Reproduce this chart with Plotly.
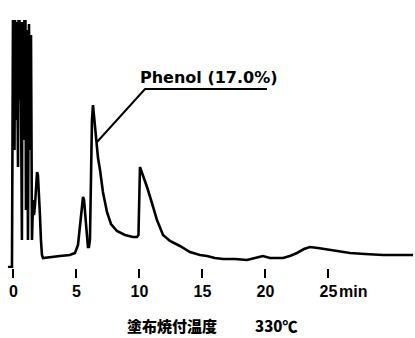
import plotly.graph_objects as go

# Retention time (min) and detector signal (arbitrary units)
time_min = [-0.44, -0.12, -0.04, 0.00, 0.04, 0.08, 0.12, 0.16, 0.20, 0.24, 0.28, 0.32, 0.36,
            0.40, 0.44, 0.48, 0.52, 0.56, 0.60, 0.67, 0.71, 0.75, 0.79,
            0.83, 0.87, 0.91, 0.95, 0.99, 1.07, 1.11, 1.15, 1.23, 1.27, 1.31, 1.39, 1.47, 1.55,
            1.63, 1.71, 1.79, 1.87, 1.94, 2.02, 2.10, 2.18, 2.26, 2.34,
            2.90, 3.69, 4.48, 4.88, 5.12, 5.36, 5.52, 5.60, 5.75, 5.91, 5.99, 6.07, 6.15,
            6.23, 6.31, 6.39, 6.55, 6.71, 6.87, 7.10, 7.42, 7.74, 8.21, 8.85, 9.48, 9.80, 9.92,
            9.96, 10.04, 10.12, 10.28, 10.60, 10.99, 11.39, 11.87, 12.42, 13.21, 14.01, 14.80,
            15.36, 15.99, 16.63, 17.58, 18.53, 19.17, 19.80, 20.36, 21.39, 21.94, 22.50, 23.06,
            23.53, 24.17, 25.12, 25.91, 26.71, 27.90, 29.33, 30.67, 31.71]
signal = [1, 1, 248, 160, 248, 118, 248, 175, 246, 148, 246, 190, 101,
          248, 205, 248, 168, 246, 190, 28, 246, 243, 170,
          128, 248, 200, 248, 58, 238, 140, 28, 244, 200, 118, 233, 28, 68,
          53, 63, 88, 96, 93, 78, 53, 28, 13, 10,
          11, 12, 13, 15, 23, 53, 71, 68, 43, 21, 21, 28, 88,
          148, 163, 153, 128, 110, 98, 76, 56, 44, 37, 33, 31, 31, 33,
          58, 101, 98, 93, 81, 65, 48, 33, 27, 22, 16, 13,
          12, 10, 9, 9, 8, 10, 12, 10, 10, 12, 15, 19,
          21, 20, 18, 16, 15, 14, 13, 13, 13]

tick_vals = [0, 5, 10, 15, 20, 25]
tick_text = ["0", "5", "10", "15", "20", "25"]
peak_label = "Phenol (17.0%)"
title_text = "塗布焼付温度"
title_temp = "330℃"

fig = go.Figure()
fig.add_trace(go.Scatter(x=time_min, y=signal, mode="lines",
                         line=dict(color="black", width=2.6), hoverinfo="skip",
                         showlegend=False))

# leader line for the phenol label
fig.add_shape(type="path", path="M 20.12 179 L 10.44 179 L 6.63 126",
              xref="x", yref="y", line=dict(color="black", width=2))

fig.add_annotation(x=9.9, y=191, xref="x", yref="y", text=peak_label, showarrow=False,
                   xanchor="left", yanchor="middle",
                   font=dict(family="DejaVu Sans", size=16, color="black", weight="bold"))
fig.add_annotation(x=25, y=0, xref="x", yref="paper", text="min", showarrow=False,
                   xanchor="left", yanchor="top", xshift=9, yshift=-13,
                   font=dict(family="Liberation Sans", size=16, color="black", weight="bold"))
fig.add_annotation(x=172/415, y=-0.2127, xref="paper", yref="paper", yanchor="middle",
                   xanchor="center", text=title_text, showarrow=False,
                   font=dict(family="Noto Sans CJK JP", size=15, color="black", weight=900))
fig.add_annotation(x=276/415, y=-0.2127, xref="paper", yref="paper", yanchor="middle",
                   xanchor="center", text=title_temp, showarrow=False,
                   font=dict(family="Noto Sans CJK JP", size=15, color="black", weight=900))

fig.update_xaxes(range=[-1.07, 31.87], tickvals=tick_vals, ticktext=tick_text,
                 ticks="outside", ticklen=9, tickwidth=2, tickcolor="black",
                 showline=False, zeroline=False, showgrid=False, automargin=False,
                 tickfont=dict(family="Liberation Sans", size=16, color="black", weight="bold"))
fig.update_yaxes(range=[0, 268], visible=False, showgrid=False, zeroline=False)

fig.update_layout(width=415, height=338, margin=dict(l=0, r=0, t=0, b=70, autoexpand=False),
                  paper_bgcolor="white", plot_bgcolor="white")

fig.write_html("out.html", config={"displayModeBar": False},
               post_script="document.body.style.margin='0';")
